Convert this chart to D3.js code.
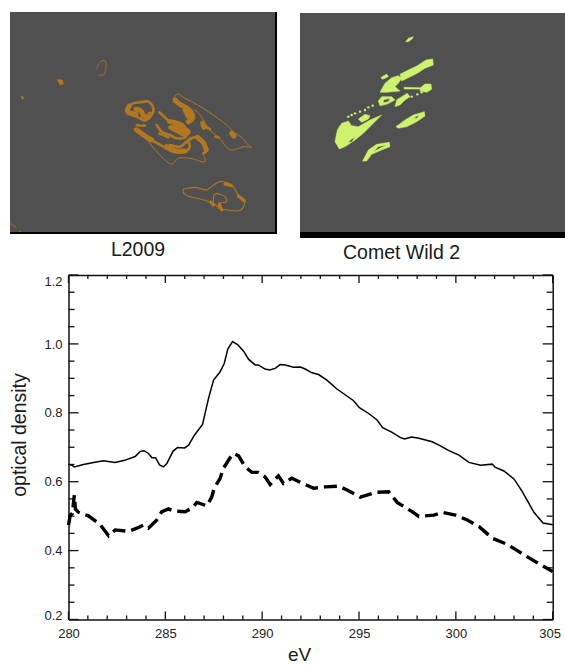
<!DOCTYPE html>
<html>
<head>
<meta charset="utf-8">
<title>L2009 / Comet Wild 2</title>
<script src="https://cdn.jsdelivr.net/npm/d3@7"></script>
<style>
    html, body { margin: 0; padding: 0; background: #fff; }
    svg { display: block; }
    text { font-family: "Liberation Sans", Arial, sans-serif; }
</style>
</head>
<body>
<svg id="chart" width="565" height="665"></svg>
<script>
// spectra: [eV, optical density]
const l2009Spectrum = [[280,.651],[280.17,.648],[280.3,.643],[280.77,.65],[281.3,.656],[281.8,.661],[282.4,.656],[282.9,.662],[283.44,.673],[283.7,.688],[283.9,.69],[284.13,.682],[284.3,.67],[284.5,.669],[284.7,.649],[284.9,.643],[285.08,.653],[285.4,.689],[285.63,.699],[286,.698],[286.2,.706],[286.5,.735],[286.92,.766],[287.23,.842],[287.49,.895],[287.83,.919],[288.04,.943],[288.23,.986],[288.47,1.007],[288.73,.998],[289.04,.979],[289.3,.955],[289.64,.939],[289.8,.939],[290.15,.927],[290.38,.924],[290.67,.929],[290.93,.94],[291.19,.939],[291.62,.932],[291.97,.933],[292.22,.927],[292.57,.916],[292.91,.911],[293.34,.895],[293.86,.869],[294.72,.835],[295.02,.815],[295.5,.798],[295.93,.779],[296.22,.757],[296.71,.743],[297.14,.728],[297.36,.724],[297.71,.73],[298.09,.726],[298.78,.716],[299.2,.704],[299.64,.69],[300.16,.677],[300.67,.656],[301.28,.648],[301.88,.651],[302.02,.642],[302.48,.631],[303,.608],[303.43,.571],[304.03,.511],[304.5,.48],[305,.475]];
const wild2Spectrum = [[280,.474],[280.09,.503],[280.2,.508],[280.3,.561],[280.36,.52],[280.52,.511],[281.03,.501],[281.63,.476],[282.07,.443],[282.41,.46],[283.1,.456],[283.53,.465],[283.87,.474],[284.13,.465],[284.56,.489],[284.82,.513],[285.16,.521],[285.42,.515],[286.02,.513],[286.37,.523],[286.63,.54],[287.14,.53],[287.4,.556],[287.52,.581],[287.83,.61],[288,.639],[288.35,.67],[288.52,.682],[288.78,.675],[289.12,.643],[289.47,.627],[289.8,.627],[290.15,.614],[290.41,.592],[290.84,.617],[291.1,.595],[291.53,.61],[291.97,.598],[292.66,.581],[293.26,.585],[293.95,.587],[294.38,.576],[295.07,.555],[295.84,.569],[296.53,.571],[296.97,.54],[297.74,.513],[298.09,.499],[298.86,.503],[299.29,.511],[299.98,.503],[300.59,.489],[301.19,.47],[301.88,.436],[302.66,.418],[303.26,.397],[303.95,.373],[305,.339]];

const xMajor = [280, 285, 290, 295, 300, 305];
const xMinor = [281, 282, 283, 284, 286, 287, 288, 289, 291, 292, 293, 294, 296, 297, 298, 299, 301, 302, 303, 304];
const yMajor = [0.2, 0.4, 0.6, 0.8, 1.0, 1.2];
const yMinor = [0.25, 0.3, 0.35, 0.45, 0.5, 0.55, 0.65, 0.7, 0.75, 0.85, 0.9, 0.95, 1.05, 1.1, 1.15];

// L2009 micrograph, central particle: bands traced at three weights
const l2009Heavy = [
    [[165,30],[178,42],[197,52],[212,65],[218,85],[205,95]],
    [[195,60],[205,80]],
    [[48,58],[62,62],[72,78],[85,82],[90,72]],
    [[28,48],[22,62],[35,70],[48,72]],
    [[148,94],[165,98],[185,105],[195,118],[205,125],[190,132],[172,122],[152,112]],
    [[165,108],[185,118]],
    [[248,100],[252,112]],
    [[335,130],[342,138]],
    [[232,142],[250,158],[258,178]],
    [[50,120],[75,138],[95,150]],
    [[140,170],[165,182],[195,183]]
];
const l2009Medium = [
    [[20,60],[35,42],[60,37],[85,35],[100,55],[98,70],[85,85],[75,92],[55,82],[35,75],[22,70]],
    [[118,67],[130,78],[145,92]],
    [[110,105],[125,125],[150,135],[170,145],[195,142],[205,128]],
    [[45,117],[70,135],[95,150],[130,170],[160,185],[195,185],[210,170],[205,150],[232,140]],
    [[150,165],[180,170],[200,155],[215,145]],
    [[50,105],[62,107]],
    [[68,107],[74,107]],
    [[286,140],[296,142]],
    [[255,108],[270,118]],
    [[250,160],[262,180],[250,190]],
    [[118,130],[145,142]]
];
const l2009Fine = [
    [[160,38],[165,18],[175,12],[190,22],[215,35],[250,55],[280,75],[310,97],[325,110],[340,125],[365,142],[385,165],[395,172],[370,170],[350,177],[335,180],[318,170],[300,145],[280,130],[262,110],[250,90],[238,72],[222,58]],
    [[60,130],[85,155],[115,190],[155,222],[175,205],[210,205],[255,215],[250,195]]
];
// L2009 micrograph, lower particle
const l2009LowerFine = [
    [[40,58],[75,52],[110,60],[118,55],[150,35],[185,45],[205,75],[225,90],[212,120],[170,120],[150,115],[130,100],[95,88],[60,80],[40,68],[40,58]],
    [[130,100],[135,72],[165,80],[170,95],[150,100],[145,115]]
];
const l2009LowerHeavy = [
    [[122,96],[130,105]],
    [[148,102],[155,120]],
    [[205,78],[222,92]],
    [[165,42],[185,47]]
];
// L2009 micrograph, stray specks
const l2009Specks = [
    [[172,238],[188,240],[190,252],[180,255]],
    [[63,288],[72,292],[68,299]]
];
const l2009Stray = [
    [[300,185],[315,182],[318,205],[310,225],[295,225]],
    [[290,205],[295,192]],
    [[30,670],[48,682]],
    [[58,693],[62,695]]
];
// Wild 2 micrograph, central cluster
const wild2Patches = [
    [[150,112],[165,85],[185,68],[205,62],[215,70],[205,85],[195,95],[210,108],[170,112]],
    [[210,58],[235,45],[262,32],[288,15],[308,12],[310,30],[285,40],[262,55],[235,68],[215,78]],
    [[152,68],[170,57],[175,65],[158,73]],
    [[222,97],[272,98],[272,102],[222,102]],
    [[272,98],[285,87],[303,87],[305,103],[290,112],[270,108]],
    [[195,155],[200,135],[215,125],[232,115],[240,125],[225,135],[210,150]],
    [[145,138],[155,125],[185,125],[195,135],[170,148],[150,152],[145,138],[160,135],[160,143],[175,140],[180,130],[160,135]],
    [[85,192],[105,178],[120,182],[115,192],[95,202]],
    [[15,260],[22,225],[35,205],[55,198],[65,212],[85,215],[120,195],[155,180],[130,205],[100,235],[75,255],[45,275],[28,282],[15,260],[55,260],[65,262],[75,245],[55,260]],
    [[198,215],[225,195],[250,180],[283,170],[285,183],[260,200],[230,215],[205,220],[198,215],[250,190],[262,190],[268,180],[250,190]],
    [[98,318],[115,285],[140,268],[178,262],[180,275],[155,285],[125,298],[110,318],[98,318],[130,290],[150,280],[170,270],[145,275],[130,290]]
];
const wild2Dots = [[55,185],[65,180],[75,175],[90,170],[105,165],[115,157],[128,152],[245,125],[262,118],[275,112]];
const wild2Speck = [[362,125],[370,115],[385,110],[382,116],[370,125]];

const svg = d3.select("#chart");

function cropFrame(left, top) {
    const fx = d3.scaleLinear().domain([0, 3]).range([left, left + 1]);
    const fy = d3.scaleLinear().domain([0, 3]).range([top, top + 1]);
    return {
        x: fx,
        y: fy,
        path: d3.line().x(d => fx(d[0])).y(d => fy(d[1])),
        smooth: d3.line().x(d => fx(d[0])).y(d => fy(d[1])).curve(d3.curveCatmullRom)
    };
}

const centreCrop = cropFrame(120, 90);
const lowerCrop = cropFrame(170, 170);
const fullLeftCrop = cropFrame(0, 0);
const clusterCrop = cropFrame(330, 55);
const fullRightCrop = cropFrame(285, 0);

const orange = "#b3771f";
const green = "#cdf26e";

function drawTraces(shapes, crop, weight) {
    svg.append("g").selectAll("path").data(shapes).join("path")
        .attr("d", crop.smooth)
        .attr("fill", "none").attr("stroke", orange).attr("stroke-width", weight)
        .attr("stroke-linejoin", "round").attr("stroke-linecap", "round");
}

function drawPatches(shapes, crop, color) {
    svg.append("g").selectAll("path").data(shapes).join("path")
        .attr("d", d => crop.path(d) + "Z")
        .attr("fill", color).attr("fill-rule", "evenodd")
        .attr("stroke", color).attr("stroke-width", 0.5);
}

// left micrograph
svg.append("rect").attr("x", 10).attr("y", 12).attr("width", 267).attr("height", 222).attr("fill", "#000");
svg.append("rect").attr("x", 10).attr("y", 12).attr("width", 265).attr("height", 220).attr("fill", "#505050");
drawTraces(l2009Heavy, centreCrop, 5);
drawTraces(l2009Medium, centreCrop, 2.6);
drawTraces(l2009Fine, centreCrop, 1);
drawTraces(l2009LowerFine, lowerCrop, 1.1);
drawTraces(l2009LowerHeavy, lowerCrop, 3.2);
drawPatches(l2009Specks, fullLeftCrop, orange);
drawTraces(l2009Stray, fullLeftCrop, 0.8);

// right micrograph
svg.append("rect").attr("x", 300).attr("y", 13).attr("width", 265).attr("height", 225).attr("fill", "#000");
svg.append("rect").attr("x", 300).attr("y", 13).attr("width", 265).attr("height", 219).attr("fill", "#505050");
drawPatches(wild2Patches, clusterCrop, green);
drawPatches([wild2Speck], fullRightCrop, green);
svg.append("g").selectAll("circle").data(wild2Dots).join("circle")
    .attr("cx", d => clusterCrop.x(d[0])).attr("cy", d => clusterCrop.y(d[1])).attr("r", 1.2)
    .attr("fill", green);

svg.append("text").attr("x", 138).attr("y", 256).attr("text-anchor", "middle")
    .attr("font-size", "19.5px").attr("fill", "#1a1a1a").text("L2009");
svg.append("text").attr("x", 401.5).attr("y", 259).attr("text-anchor", "middle")
    .attr("font-size", "19.5px").attr("fill", "#1a1a1a").text("Comet Wild 2");

// spectrum plot
const plotLeft = 68.5, plotRight = 552.7, plotTop = 275, plotBottom = 619.5;
const x = d3.scaleLinear().domain([280, 305]).range([plotLeft, plotRight]);
const y = d3.scaleLinear().domain([0.2, 1.2]).range([plotBottom, plotTop]);
const line = d3.line().x(d => x(d[0])).y(d => y(d[1]));

function drawAxis(axis, tx, ty) {
    const g = svg.append("g").attr("transform", `translate(${tx},${ty})`).call(axis);
    g.select(".domain").attr("stroke", "#111").attr("stroke-width", 1.5);
    g.selectAll("text").attr("font-size", "13px").attr("fill", "#222")
        .style("font-family", '"Liberation Sans", Arial, sans-serif');
    return g;
}

// frame sides, with the labels on the bottom and left ones
drawAxis(d3.axisTop(x).tickValues([]).tickSizeOuter(0), 0, plotTop);
drawAxis(d3.axisRight(y).tickValues([]).tickSizeOuter(0), plotRight, 0);
const xLabels = drawAxis(d3.axisBottom(x).tickValues(xMajor).tickSize(0).tickSizeOuter(0).tickPadding(9).tickFormat(d3.format("d")), 0, plotBottom);
xLabels.selectAll("text").filter(d => d === 305).attr("dx", -3);
const yLabels = drawAxis(d3.axisLeft(y).tickValues(yMajor).tickSize(0).tickSizeOuter(0).tickPadding(6).tickFormat(d3.format(".1f")), plotLeft, 0);
yLabels.selectAll("text").filter(d => d === 1.2).attr("dy", "0.8em");
yLabels.selectAll("text").filter(d => d === 0.2).attr("dy", "0.02em");

// inward ticks on all four sides, as thin rects
const tickWeight = 1.3;
function drawTicksX(values, size) {
    [plotBottom - size, plotTop].forEach(top => {
        svg.append("g").selectAll("rect").data(values).join("rect")
            .attr("x", d => x(d) - tickWeight / 2).attr("y", top)
            .attr("width", tickWeight).attr("height", size)
            .attr("fill", "#111");
    });
}
function drawTicksY(values, size) {
    [plotLeft, plotRight - size].forEach(left => {
        svg.append("g").selectAll("rect").data(values).join("rect")
            .attr("x", left).attr("y", d => y(d) - tickWeight / 2)
            .attr("width", size).attr("height", tickWeight)
            .attr("fill", "#111");
    });
}
drawTicksX(xMinor, 4);
drawTicksX(xMajor, 8);
drawTicksY(yMinor, 6);
drawTicksY(yMajor, 10);

svg.append("path").datum(l2009Spectrum).attr("d", line)
    .attr("fill", "none").attr("stroke", "#000").attr("stroke-width", 1.5);
svg.append("path").datum(wild2Spectrum).attr("d", line)
    .attr("fill", "none").attr("stroke", "#000").attr("stroke-width", 3.4)
    .attr("stroke-dasharray", "13 6");

svg.append("text").attr("x", 299.5).attr("y", 660.5).attr("text-anchor", "middle")
    .attr("font-size", "19px").attr("fill", "#1a1a1a").text("eV");
svg.append("text").attr("transform", "translate(26,435) rotate(-90)").attr("text-anchor", "middle")
    .attr("font-size", "19.5px").attr("fill", "#1a1a1a").text("optical density");
</script>
</body>
</html>
